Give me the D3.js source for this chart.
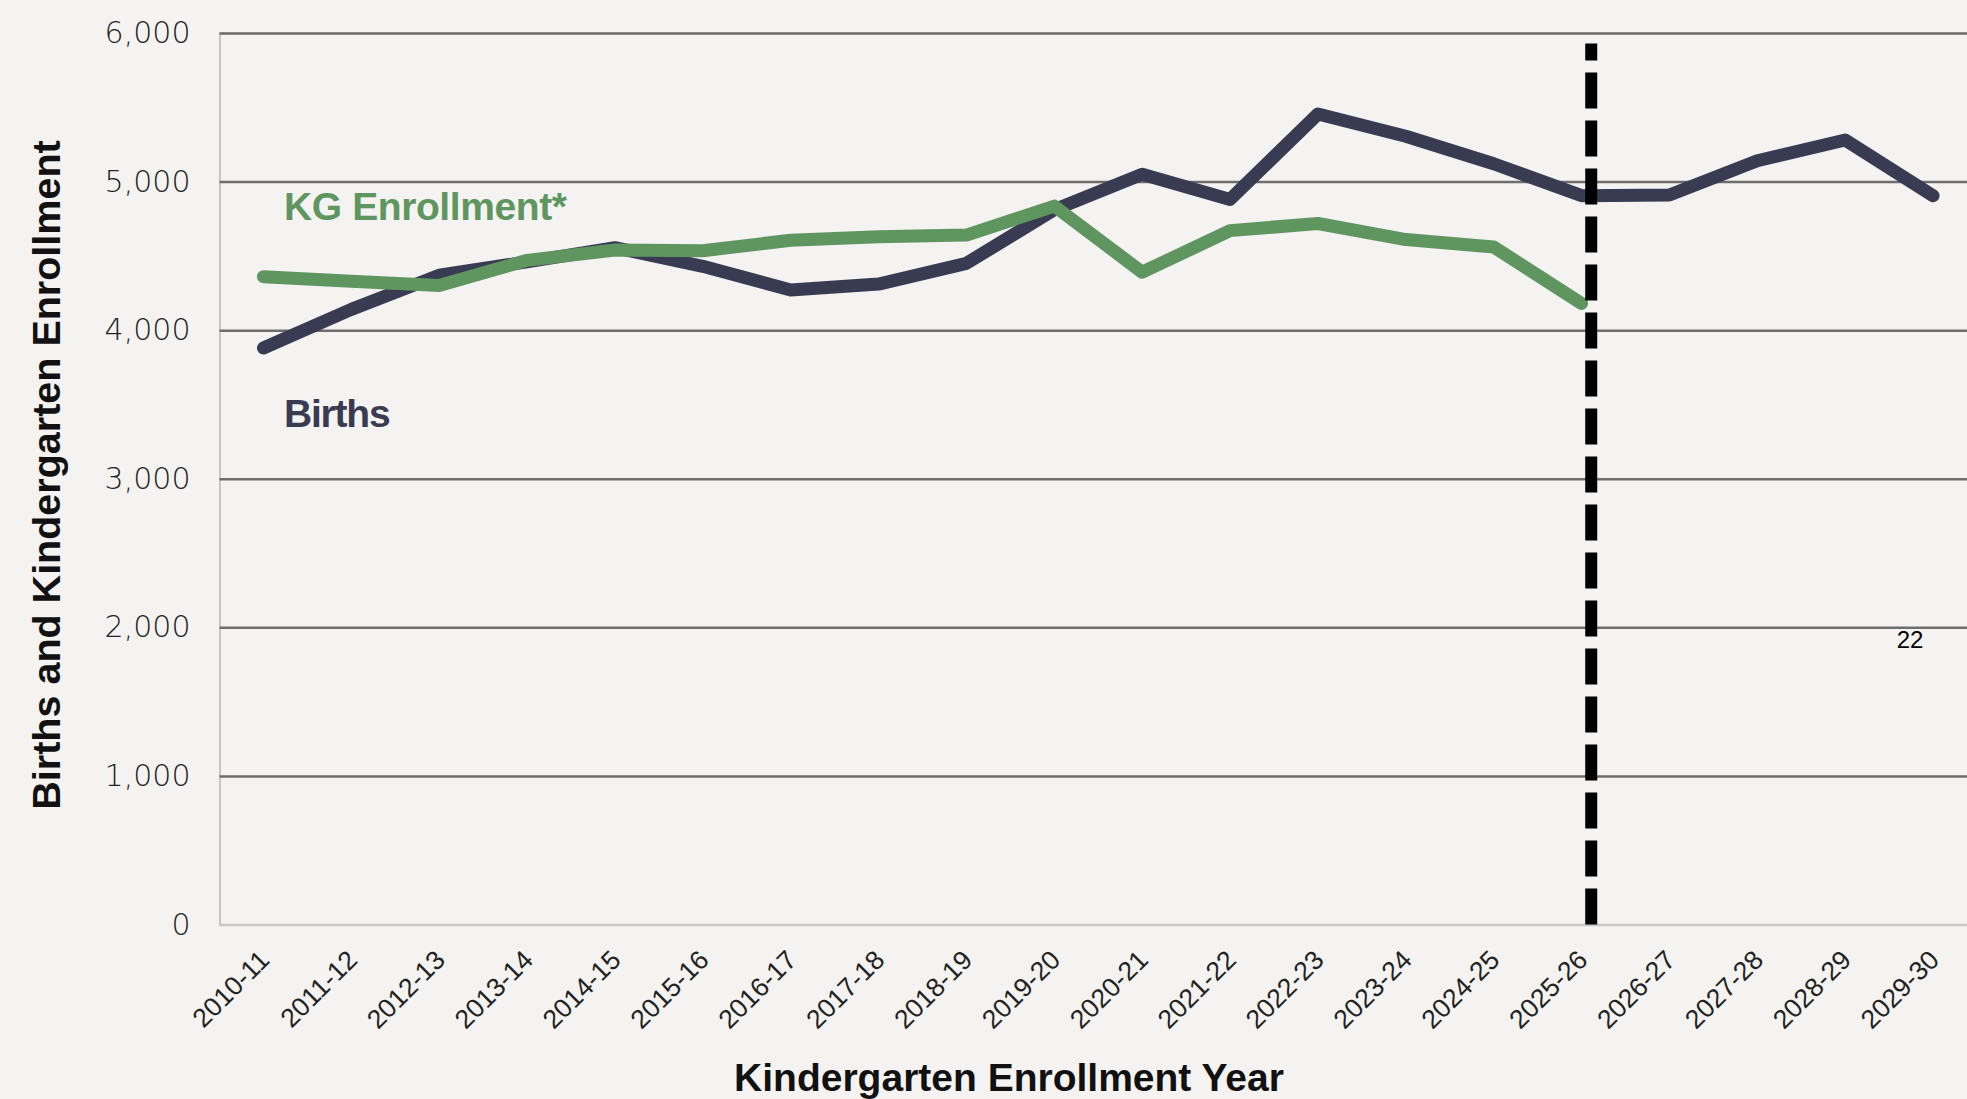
<!DOCTYPE html>
<html>
<head>
<meta charset="utf-8">
<script src="https://cdn.jsdelivr.net/npm/d3@7"></script>
<style>
  html, body { margin: 0; padding: 0; background: #f4f3f1; }
  svg { display: block; }
</style>
</head>
<body>
<svg id="chart"></svg>
<script>
const categories = ['2010-11', '2011-12', '2012-13', '2013-14', '2014-15', '2015-16', '2016-17',
  '2017-18', '2018-19', '2019-20', '2020-21', '2021-22', '2022-23', '2023-24', '2024-25',
  '2025-26', '2026-27', '2027-28', '2028-29', '2029-30']
const births = [3880, 4140, 4370, 4460, 4555, 4430, 4270, 4310, 4450, 4810,
  5050, 4880, 5455, 5305, 5120, 4905, 4910, 5140, 5280, 4905]
const kgEnrollment = [4360, 4330, 4300, 4470, 4540, 4535, 4605, 4628, 4640, 4835,
  4390, 4670, 4718, 4610, 4560, 4180]
const yTicks = [0, 1000, 2000, 3000, 4000, 5000, 6000]
const projectionStart = '2025-26'
const dividerTop = 5930

const WIDTH = 1967
const HEIGHT = 1099
const LEFT = 219.5
const BOTTOM = 924.5
const TOP = 33
const NAVY = '#393b52'
const GREEN = '#5f9660'

const svg = d3.select('#chart')
  .attr('width', WIDTH)
  .attr('height', HEIGHT)

svg.append('rect')
  .attr('width', WIDTH)
  .attr('height', HEIGHT)
  .attr('fill', '#f4f3f1')

const x = d3.scalePoint()
  .domain(categories)
  .range([LEFT, 1977])
  .padding(0.5)
const y = d3.scaleLinear()
  .domain([0, 6000])
  .range([BOTTOM, TOP])

// y axis + gridlines
const yAxis = svg.append('g')
  .attr('transform', `translate(${LEFT},0)`)
  .call(d3.axisLeft(y)
    .tickValues(yTicks)
    .tickSize(-(WIDTH - LEFT))
    .tickPadding(29)
    .tickFormat(d3.format(',')))
yAxis.select('.domain')
  .attr('stroke', '#c6c6c6')
  .attr('stroke-width', 2)
yAxis.selectAll('.tick line')
  .attr('stroke', d => d === 0 ? 'none' : '#6e6e6e')
  .attr('stroke-width', 2.5)
yAxis.selectAll('.tick text')
  .attr('fill', '#222')
  .attr('font-family', 'DejaVu Sans, sans-serif')
  .attr('font-weight', 200)
  .attr('font-size', 30)

// x axis
const xAxis = svg.append('g')
  .attr('transform', `translate(0,${BOTTOM})`)
  .call(d3.axisBottom(x).tickSize(0).tickSizeOuter(0))
xAxis.select('.domain')
  .attr('stroke', '#c8c8c8')
  .attr('stroke-width', 2.5)
xAxis.selectAll('.tick text')
  .attr('fill', '#222')
  .attr('font-family', 'Liberation Sans, Arial, sans-serif')
  .attr('font-size', 26.5)
  .attr('text-anchor', 'end')
  .attr('y', 0)
  .attr('dy', 0)
  .attr('transform', 'translate(7,37) rotate(-45)')

const line = d3.line()
  .x((d, i) => x(categories[i]))
  .y(d => y(d))

svg.append('path')
  .datum(births)
  .attr('d', line)
  .attr('fill', 'none')
  .attr('stroke', NAVY)
  .attr('stroke-width', 13)
  .attr('stroke-linecap', 'round')
  .attr('stroke-linejoin', 'round')

svg.append('path')
  .datum(kgEnrollment)
  .attr('d', line)
  .attr('fill', 'none')
  .attr('stroke', GREEN)
  .attr('stroke-width', 13)
  .attr('stroke-linecap', 'round')
  .attr('stroke-linejoin', 'round')

// projection divider
const divX = x(projectionStart) + x.step() * 0.11
svg.append('line')
  .attr('x1', divX).attr('x2', divX)
  .attr('y1', y(0)).attr('y2', y(dividerTop))
  .attr('stroke', '#000')
  .attr('stroke-width', 12)
  .attr('stroke-dasharray', '36 12')

// series labels
svg.append('text')
  .attr('x', 284)
  .attr('y', 220)
  .attr('fill', GREEN)
  .attr('font-family', 'Liberation Sans, Arial, sans-serif')
  .attr('font-weight', 'bold')
  .attr('font-size', 39)
  .attr('letter-spacing', -0.4)
  .text('KG Enrollment*')

svg.append('text')
  .attr('x', 284)
  .attr('y', 427)
  .attr('fill', NAVY)
  .attr('font-family', 'Liberation Sans, Arial, sans-serif')
  .attr('font-weight', 'bold')
  .attr('font-size', 39)
  .attr('letter-spacing', -1.2)
  .text('Births')

// axis titles
svg.append('text')
  .attr('transform', 'translate(60,475) rotate(-90)')
  .attr('text-anchor', 'middle')
  .attr('fill', '#111')
  .attr('font-family', 'Liberation Sans, Arial, sans-serif')
  .attr('font-weight', 'bold')
  .attr('font-size', 39.5)
  .text('Births and Kindergarten Enrollment')

svg.append('text')
  .attr('x', 1009)
  .attr('y', 1091)
  .attr('text-anchor', 'middle')
  .attr('fill', '#111')
  .attr('font-family', 'Liberation Sans, Arial, sans-serif')
  .attr('font-weight', 'bold')
  .attr('font-size', 39)
  .text('Kindergarten Enrollment Year')

// page number
svg.append('text')
  .attr('x', 1910)
  .attr('y', 648)
  .attr('text-anchor', 'middle')
  .attr('fill', '#000')
  .attr('font-family', 'Liberation Sans, Arial, sans-serif')
  .attr('font-size', 24)
  .text('22')
</script>
</body>
</html>
